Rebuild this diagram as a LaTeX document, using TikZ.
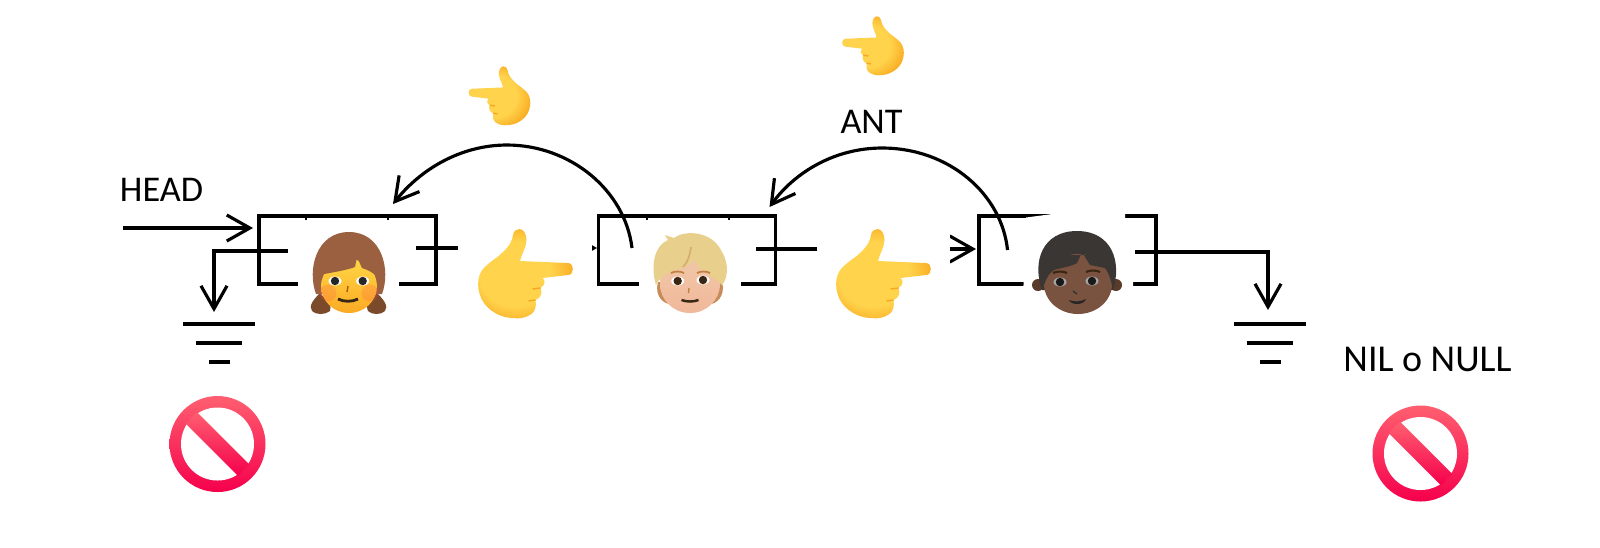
\documentclass[tikz,border=0pt]{standalone}
\usepackage{fontspec}
\setmainfont{Carlito}
\usetikzlibrary{arrows.meta,calc}
\definecolor{handtop}{HTML}{FFD34C}
\definecolor{handbot}{HTML}{F8A81E}
\definecolor{signtop}{HTML}{FF5F70}
\definecolor{signmid}{HTML}{FF2C58}
\definecolor{signbot}{HTML}{F5004C}
\definecolor{girlhair}{HTML}{9A6040}
\definecolor{girlbraid}{HTML}{7A4A2A}
\definecolor{girltop}{HTML}{FFD645}
\definecolor{girlbot}{HTML}{FBAA24}
\definecolor{blondhair}{HTML}{E8D08C}
\definecolor{blondside}{HTML}{C58C58}
\definecolor{blondskin}{HTML}{F0C8A8}
\definecolor{darkhair}{HTML}{3A3633}
\definecolor{darkskin}{HTML}{7A5240}
\definecolor{darkear}{HTML}{5A3A28}
\pgfdeclareradialshading{handshade}{\pgfpoint{-8bp}{0bp}}{color(0bp)=(handtop); color(18bp)=(handtop); color(30bp)=(handbot); color(50bp)=(handbot)}
\tikzset{
  listbox/.style={draw,rectangle,minimum width=1.77cm,minimum height=.68cm,inner sep=0pt},
  lbl/.style={font=\fontsize{10.3}{12}\selectfont,inner sep=0pt},
  patch/.style={fill=white,draw=none},
  hand/.pic={
    \shade[shading=handshade]
      (-6,-45) .. controls (-2,-45) and (1,-40) .. (1,-34)
      .. controls (1,-27) and (-4,-20) .. (-5.5,-13)
      -- (42.5,-11) .. controls (49,-11) and (49,1) .. (42.5,1)
      -- (17,4) .. controls (20,6) and (20,11) .. (15,14)
      .. controls (17,18) and (16,24) .. (10,26)
      .. controls (11,31) and (10,37) .. (6,40)
      .. controls (0,44) and (-6,45) .. (-12.5,44)
      .. controls (-24,44) and (-38,37) .. (-44,25)
      .. controls (-50,12) and (-48,-2) .. (-38.5,-9)
      .. controls (-32,-15) and (-27,-17) .. (-22.5,-22)
      .. controls (-16,-28) and (-13,-34) .. (-12.5,-39)
      .. controls (-12,-43) and (-9,-45) .. (-6,-45) -- cycle;
    \draw[handbot,line width=.4pt] (15,14) -- (7,15) (10,26) -- (3,27);
  },
  nosign/.pic={
    \shade[top color=signtop,middle color=signmid,bottom color=signbot] (0,0) circle (48);
    \fill[white] (0,0) circle (36.5);
    \shade[top color=signtop,middle color=signmid,bottom color=signbot]
      (-31.8,-20.5) -- (-20.5,-31.8) -- (31.8,20.5) -- (20.5,31.8) -- cycle;
  },
}
\begin{document}
\begin{tikzpicture}[x=0.01cm,y=-0.01cm,line width=.9pt,>={Straight Barb[length=2.3mm,width=2.6mm]}]
\useasboundingbox (0,0) rectangle (1600,547);
\node[listbox] (box1) at (347.5,250) {};
\node[listbox] (box2) at (687,250) {};
\node[listbox] (box3) at (1067.5,250) {};
\node[lbl] (head) at (161.5,189.5) {HEAD};
\node[lbl] (ant) at (871.5,122) {ANT};
\node[lbl,font=\fontsize{10.8}{12}\selectfont] (nil) at (1427.5,359.5) {NIL o NULL};
\coordinate (headin) at (123,228);
\coordinate (first) at (253,228);
\coordinate (prev1) at (288,251);
\coordinate (nil1) at (214,312);
\coordinate (next1) at (416,248);
\coordinate (in2) at (597,248);
\coordinate (next2) at (756,249);
\coordinate (in3) at (976,249);
\coordinate (next3) at (1135,252);
\coordinate (nil3) at (1268,310);
\coordinate (prev2) at (632,248);
\coordinate (prev3) at (1007.5,250);
\coordinate (back1) at (393,204);
\coordinate (back2) at (769.5,207);
% ties between the boxes
\draw[->] (headin) -- (first);
\draw[->] (prev1) -- (214,251) -- (nil1);
\draw[->] (next1) -- (in2);
\draw[->] (next2) -- (in3);
\draw[->] (next3) -- (1268,252) -- (nil3);
\draw[->] (prev2) .. controls (625,190) and (570,145) .. (507,145)
  .. controls (460,145) and (420,170) .. (back1);
\draw[->] (prev3) .. controls (1002,195) and (950,148) .. (882,148)
  .. controls (835,148) and (795,172) .. (back2);
% white rests round the pictures
\fill[patch] (298,220) rectangle (399,325);
\fill[patch] (639,220) rectangle (741,325);
\fill[patch] (1026,217.5) -- (1060,213) -- (1125,213) -- (1125,218) -- (1133,218) -- (1133,325) -- (1022,325) -- cycle;
\fill[patch] (458,230) rectangle (591.5,325);
\fill[patch] (816.5,230) rectangle (950,325);
\foreach \tx in {306,388,647,729} \draw[line width=.5pt] (\tx,216) -- (\tx,220);
% ground
\foreach \gx in {219,1270} {
  \draw[line width=1pt] (\gx-36,324) -- (\gx+36,324);
  \draw[line width=1pt] (\gx-23,343) -- (\gx+23,343);
  \draw[line width=1pt] (\gx-10,362) -- (\gx+11,362);
}
\foreach \sx/\sy in {217.5/444,1420.5/453.5} \pic at (\sx,\sy) {nosign};
\foreach \hx in {525.5,883.5} \pic at (\hx,274) {hand};
\pic[xscale=-.65,yscale=.66] at (499.5,96) {hand};
\pic[xscale=-.65,yscale=.66] at (873,46) {hand};
% girl
\fill[girlbraid] (320,293) .. controls (326,300) and (333,306) .. (330,311) .. controls (325,315) and (316,315) .. (312,311) .. controls (308,306) and (314,299) .. (320,293) -- cycle;
\fill[girlbraid] (377,293) .. controls (371,300) and (364,306) .. (368,311) .. controls (372,315) and (381,315) .. (385,311) .. controls (389,306) and (383,299) .. (377,293) -- cycle;
\fill[girlhair] (316,294) .. controls (307,270) and (316,232) .. (349,232) .. controls (382,232) and (391,270) .. (382,294) -- cycle;
\shade[top color=girltop,bottom color=girlbot] (349,286) ellipse (28 and 27);
\fill[girlhair] (321,283) .. controls (322,278) and (323,276) .. (324,274) .. controls (335,272) and (347,270) .. (355,267) -- (357,257) -- (362,268)
  .. controls (368,270) and (372,272) .. (375,275) .. controls (376,277) and (377,280) .. (377,283) -- (380,255) -- (318,255) -- cycle;
\fill[red!70,opacity=.2] (328,293) circle (8.5);
\fill[red!70,opacity=.2] (370,293) circle (8.5);
\draw[line width=.4pt,orange!70!black] (348,286) -- (347,292);
\draw[line width=.8pt,black!70!brown] (338,299) .. controls (344,302) and (352,302) .. (358,299);
% blond boy
\fill[blondside] (658,282) .. controls (654,296) and (664,304) .. (670,304) -- (710,304) .. controls (716,304) and (726,296) .. (722,282) -- cycle;
\shade[top color=blondskin,bottom color=blondskin!92!red] (690,284) ellipse (30 and 29);
\fill[blondhair] (656,285) .. controls (650,265) and (655,245) .. (668,240) -- (665,235) -- (674,238)
  .. controls (684,230) and (712,230) .. (722,252) .. controls (730,265) and (727,280) .. (722,285)
  .. controls (715,278) and (705,272) .. (700,268) .. controls (697,265) and (695,262) .. (694,259)
  .. controls (692,264) and (684,268) .. (675,270) .. controls (670,271) and (660,276) .. (656,285) -- cycle;
\draw[line width=.5pt,blondside!50!blondhair] (691,247) .. controls (690,255) and (688,262) .. (683,267);
\draw[line width=.4pt,brown] (689,288) -- (688.5,293);
\draw[line width=.7pt,black!70!brown] (681.5,300) .. controls (687,302) and (693,302) .. (698.5,300);
\draw[line width=.5pt,brown] (671,273) .. controls (675,271) and (680,271) .. (684,273) (697,273) .. controls (701,271) and (706,271) .. (710,273);
% dark boy
\fill[darkear] (1038,285) circle (6);
\fill[darkear] (1116,285) circle (6);
\fill[darkhair] (1042,290) .. controls (1032,262) and (1042,231) .. (1077,231) .. controls (1112,231) and (1122,262) .. (1113,290) -- cycle;
\fill[darkskin] (1078,284) ellipse (34 and 30);
\fill[darkhair] (1044,285) .. controls (1045,282) and (1046,280) .. (1047,278) .. controls (1049,274) and (1051,272) .. (1054,270) .. controls (1060,268) and (1070,267) .. (1077,263)
  -- (1082,252) -- (1090,265) .. controls (1096,266) and (1100,267) .. (1105,268) .. controls (1108,272) and (1110,277) .. (1112,285) -- (1112,255) -- (1044,255) -- cycle;
\draw[line width=.6pt,black!70!brown] (1053,273) .. controls (1057,271) and (1063,271) .. (1067,273) (1086,272) .. controls (1090,270) and (1096,270) .. (1100,272);
\draw[line width=.4pt,black!80] (1073,291) -- (1077,294);
\fill[black!85] (1069,300) .. controls (1074,302) and (1080,302) .. (1086,299) .. controls (1084,305) and (1072,306) .. (1069,300) -- cycle;
% eyes of all three
\foreach \ex/\ey/\es/\ec in {335/281/white/black!85,362.7/281/white/black!85,677.7/281/white/black!70!brown,703/280/white/black!70!brown,1060/282/black!35/black!90,1092/281/black!35/black!90} {
  \fill[\es] (\ex,\ey) ellipse (6.5 and 4.5);
  \fill[\ec] (\ex,\ey) circle (4.2);
}
\end{tikzpicture}
\end{document}
